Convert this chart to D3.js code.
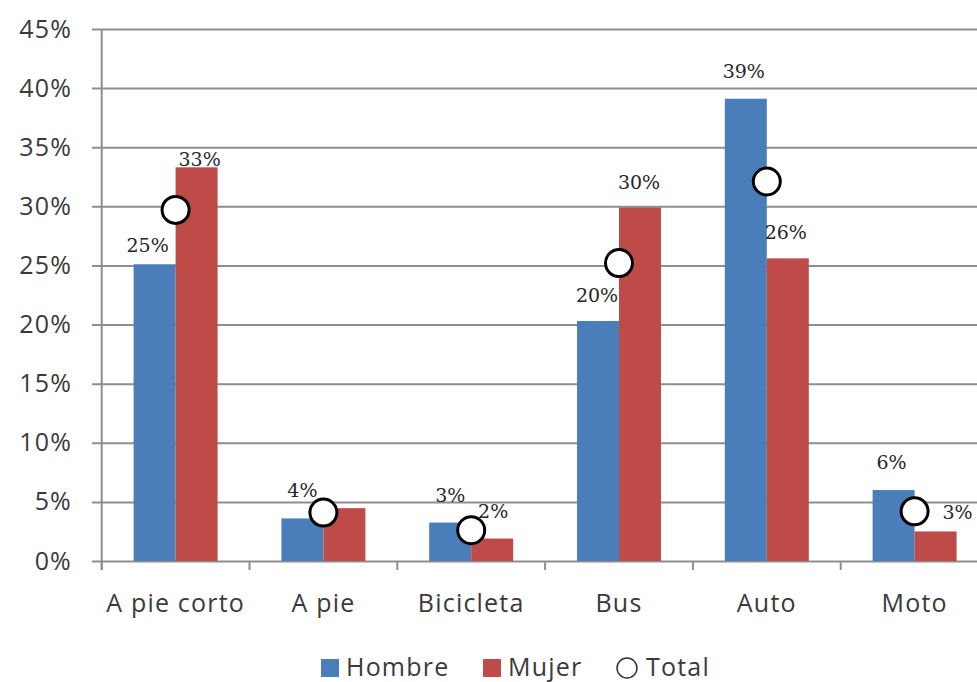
<!DOCTYPE html>
<html>
<head>
<meta charset="utf-8">
<script src="https://cdn.jsdelivr.net/npm/d3@7"></script>
<style>
  html, body { margin: 0; padding: 0; background: #ffffff; }
  svg { display: block; }
</style>
</head>
<body>
<div id="chart"></div>
<script>
// ---------- data ----------
const categories = ["A pie corto", "A pie", "Bicicleta", "Bus", "Auto", "Moto"];
const hombre = [0.251, 0.036, 0.0325, 0.203, 0.391, 0.060];
const mujer  = [0.333, 0.0447, 0.019, 0.299, 0.256, 0.025];
const total  = [0.297, 0.041, 0.026, 0.252, 0.321, 0.042];
const hombreLabels = ["25%", "4%", "3%", "20%", "39%", "6%"];
const mujerLabels  = ["33%", "", "2%", "30%", "26%", "3%"];
const yTicks = [0, 0.05, 0.10, 0.15, 0.20, 0.25, 0.30, 0.35, 0.40, 0.45];
const seriesNames = ["Hombre", "Mujer"];
const legendNames = ["Hombre", "Mujer", "Total"];

// ---------- layout / style (not data) ----------
const W = 977, H = 682;
const plotLeft = 101.7, plotRight = 988.5, plotTop = 29, plotBottom = 561;
const colors = { Hombre: "#4A7EBB", Mujer: "#BE4B48" };
const textColor = "#3a3a3a";
const gridColor = "#8e8e8e";
const axisFont = "'Open Sans', sans-serif";
// label offsets (dx, dy) relative to the top-centre of each bar
const labelOffset = {
  Hombre: [[-7, -19], [0, -28], [0, -28], [-1, -26], [-2, -28], [-2, -28]],
  Mujer:  [[3, -8],   [0, -28], [1, -28], [-1, -26], [-2, -26], [22, -19]]
};

const svg = d3.select("#chart").append("svg")
  .attr("width", W).attr("height", H);
svg.append("rect").attr("width", W).attr("height", H).attr("fill", "#fff");

const x = d3.scaleBand().domain(categories).range([plotLeft, plotRight]).padding(0);
const xs = d3.scaleBand().domain(seriesNames).range([0, x.bandwidth()]).paddingOuter(0.76).paddingInner(0);
const y = d3.scaleLinear().domain([0, 0.45]).range([plotBottom, plotTop]);

// gridlines + y labels
const yAxis = d3.axisLeft(y).tickValues(yTicks).tickFormat(d3.format(".0%"))
  .tickSize(-(plotRight - 92)).tickPadding(20);
const gy = svg.append("g").attr("transform", "translate(92,0)").call(yAxis);
gy.select(".domain").remove();
gy.selectAll(".tick line").attr("stroke", gridColor).attr("stroke-width", 2);
gy.selectAll(".tick text").attr("fill", textColor)
  .style("font-family", axisFont).style("font-size", "25px").style("letter-spacing", "1.2px");

// y axis line
svg.append("line").attr("x1", plotLeft).attr("x2", plotLeft)
  .attr("y1", y(0.45)).attr("y2", y(0) + 9)
  .attr("stroke", gridColor).attr("stroke-width", 2);

// x axis category boundary ticks
d3.range(categories.length + 1).forEach(i => {
  const xx = plotLeft + i * x.step();
  svg.append("line").attr("x1", xx).attr("x2", xx)
    .attr("y1", y(0)).attr("y2", y(0) + 9)
    .attr("stroke", gridColor).attr("stroke-width", 2);
});

// x labels
const xAxis = d3.axisBottom(x).tickSize(0).tickPadding(33);
const gx = svg.append("g").attr("transform", `translate(0,${plotBottom})`).call(xAxis);
gx.select(".domain").remove();
gx.selectAll(".tick text").attr("fill", textColor)
  .style("font-family", axisFont).style("font-size", "25px").style("letter-spacing", "1.2px");

// bars
const seriesData = { Hombre: hombre, Mujer: mujer };
const seriesLabels = { Hombre: hombreLabels, Mujer: mujerLabels };
seriesNames.forEach(s => {
  svg.append("g").selectAll("rect").data(categories).join("rect")
    .attr("x", c => x(c) + xs(s))
    .attr("width", xs.bandwidth())
    .attr("y", (c, i) => y(seriesData[s][i]))
    .attr("height", (c, i) => y(0) - y(seriesData[s][i]))
    .attr("fill", colors[s]);
});

// data labels
seriesNames.forEach(s => {
  svg.append("g").selectAll("text").data(categories).join("text")
    .attr("x", (c, i) => x(c) + xs(s) + xs.bandwidth() / 2 + labelOffset[s][i][0])
    .attr("y", (c, i) => y(seriesData[s][i]) + labelOffset[s][i][1])
    .attr("text-anchor", "middle").attr("dominant-baseline", "central")
    .attr("fill", "#262626")
    .style("font-family", "'DejaVu Serif', serif").style("font-size", "19px")
    .text((c, i) => seriesLabels[s][i]);
});

// total markers
svg.append("g").selectAll("circle").data(categories).join("circle")
  .attr("cx", c => x(c) + x.bandwidth() / 2)
  .attr("cy", (c, i) => y(total[i]))
  .attr("r", 13.5)
  .attr("fill", "#fff").attr("stroke", "#000").attr("stroke-width", 3);

// legend
const legend = svg.append("g").style("font-family", axisFont)
  .style("font-size", "25px").style("letter-spacing", "1.2px");
const legendPos = [321, 483, 617];
legendNames.forEach((n, i) => {
  const lx = legendPos[i];
  if (n === "Total") {
    legend.append("circle").attr("cx", lx + 10).attr("cy", 668).attr("r", 10)
      .attr("fill", "#fff").attr("stroke", "#333").attr("stroke-width", 1.5);
  } else {
    legend.append("rect").attr("x", lx).attr("y", 659).attr("width", 18).attr("height", 18)
      .attr("fill", colors[n]);
  }
  legend.append("text").attr("x", lx + (n === "Total" ? 29 : 25)).attr("y", 676)
    .attr("fill", textColor).text(n);
});
</script>
</body>
</html>
